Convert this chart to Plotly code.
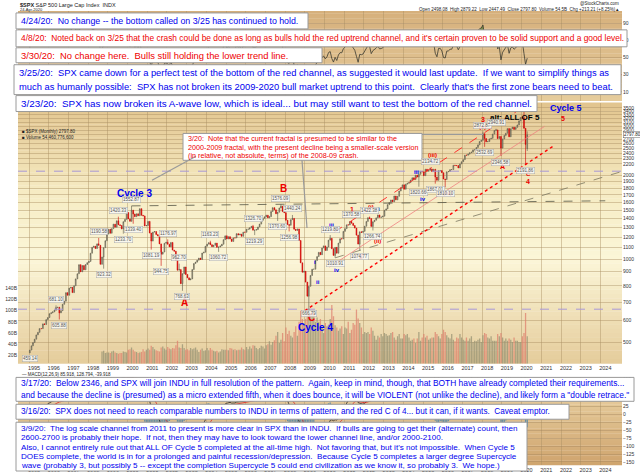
import numpy as np
import pandas as pd
import plotly.graph_objects as go

W, H = 640, 473
FONT = "Liberation Sans, Arial, sans-serif"

# ---- S&P 500 monthly closes, Jan 1995 .. Apr 2020 ----
spx_close = [
    470.42, 487.39, 500.71, 514.71, 533.40, 544.75, 562.06, 561.88, 584.41, 581.50, 605.37, 615.93,
    636.02, 640.43, 645.50, 654.17, 669.12, 670.63, 639.95, 651.99, 687.31, 705.27, 757.02, 740.74,
    786.16, 790.82, 757.12, 801.34, 848.28, 885.14, 954.31, 899.47, 947.28, 914.62, 955.40, 970.43,
    980.28, 1049.34, 1101.75, 1111.75, 1090.82, 1133.84, 1120.67, 957.28, 1017.01, 1098.67, 1163.63, 1229.23,
    1279.64, 1238.33, 1286.37, 1335.18, 1301.84, 1372.71, 1328.72, 1320.41, 1282.71, 1362.93, 1388.91, 1469.25,
    1394.46, 1366.42, 1498.58, 1452.43, 1420.60, 1454.60, 1430.83, 1517.68, 1436.51, 1429.40, 1314.95, 1320.28,
    1366.01, 1239.94, 1160.33, 1249.46, 1255.82, 1224.42, 1211.23, 1133.58, 1040.94, 1059.78, 1139.45, 1148.08,
    1130.20, 1106.73, 1147.39, 1076.92, 1067.14, 989.82, 911.62, 916.07, 815.28, 885.76, 936.31, 879.82,
    855.70, 841.15, 848.18, 916.92, 963.59, 974.50, 990.31, 1008.01, 995.97, 1050.71, 1058.20, 1111.92,
    1131.13, 1144.94, 1126.21, 1107.30, 1120.68, 1140.84, 1101.72, 1104.24, 1114.58, 1130.20, 1173.82, 1211.92,
    1181.27, 1203.60, 1180.59, 1156.85, 1191.50, 1191.33, 1234.18, 1220.33, 1228.81, 1207.01, 1249.48, 1248.29,
    1280.08, 1280.66, 1294.83, 1310.61, 1270.09, 1270.20, 1276.66, 1303.82, 1335.85, 1377.94, 1400.63, 1418.30,
    1438.24, 1406.82, 1420.86, 1482.37, 1530.62, 1503.35, 1455.27, 1473.99, 1526.75, 1549.38, 1481.14, 1468.36,
    1378.55, 1330.63, 1322.70, 1385.59, 1400.38, 1280.00, 1267.38, 1282.83, 1166.36, 968.75, 896.24, 903.25,
    825.88, 735.09, 797.87, 872.81, 919.14, 919.32, 987.48, 1020.62, 1057.08, 1036.19, 1095.63, 1115.10,
    1073.87, 1104.49, 1169.43, 1186.69, 1089.41, 1030.71, 1101.60, 1049.33, 1141.20, 1183.26, 1180.55, 1257.64,
    1286.12, 1327.22, 1325.83, 1363.61, 1345.20, 1320.64, 1292.28, 1218.89, 1131.42, 1253.30, 1246.96, 1257.60,
    1312.41, 1365.68, 1408.47, 1397.91, 1310.33, 1362.16, 1379.32, 1406.58, 1440.67, 1412.16, 1416.18, 1426.19,
    1498.11, 1514.68, 1569.19, 1597.57, 1630.74, 1606.28, 1685.73, 1632.97, 1681.55, 1756.54, 1805.81, 1848.36,
    1782.59, 1859.45, 1872.34, 1883.95, 1923.57, 1960.23, 1930.67, 2003.37, 1972.29, 2018.05, 2067.56, 2058.90,
    1994.99, 2104.50, 2067.89, 2085.51, 2107.39, 2063.11, 2103.84, 1972.18, 1920.03, 2079.36, 2080.41, 2043.94,
    1940.24, 1932.23, 2059.74, 2065.30, 2096.95, 2098.86, 2173.60, 2170.95, 2168.27, 2126.15, 2198.81, 2238.83,
    2278.87, 2363.64, 2362.72, 2384.20, 2411.80, 2423.41, 2470.30, 2471.65, 2519.36, 2575.26, 2647.58, 2673.61,
    2823.81, 2713.83, 2640.87, 2648.05, 2705.27, 2718.37, 2816.29, 2901.52, 2913.98, 2711.74, 2760.17, 2506.85,
    2704.10, 2784.49, 2834.40, 2945.83, 2752.06, 2941.76, 2980.38, 2926.46, 2976.74, 3037.56, 3140.98, 3230.78,
    3225.52, 2954.22, 2584.59, 2797.80,
]
first_open = 459.27
last_open = 2498.08

# swing extremes (monthly high / low) used for wicks and the value tags
swing_highs = {
    "1996-05": 681.10, "1998-07": 1190.58, "1999-07": 1420.33, "2000-03": 1552.87,
    "2002-01": 1176.97, "2002-08": 962.70, "2004-03": 1163.23, "2006-05": 1326.70,
    "2007-10": 1576.09, "2008-05": 1440.24, "2010-04": 1219.80, "2011-05": 1370.58,
    "2012-04": 1422.38, "2015-05": 2134.72, "2018-01": 2872.87, "2018-09": 2940.91,
    "2020-02": 3393.52, "2020-04": 2879.22,
}
swing_lows = {
    "1995-01": 459.14, "1996-07": 605.88, "1998-10": 923.32, "1999-10": 1233.70,
    "2000-04": 1339.40, "2001-03": 1081.19, "2001-09": 944.75, "2002-10": 768.63,
    "2004-08": 1060.72, "2006-06": 1219.29, "2007-08": 1370.60, "2008-03": 1256.98,
    "2009-03": 666.79, "2010-07": 1010.91, "2011-10": 1074.77, "2012-06": 1266.74,
    "2014-10": 1820.66, "2015-08": 1867.01, "2016-02": 1810.10, "2018-02": 2532.69,
    "2018-12": 2346.58, "2020-03": 2191.86, "2020-04": 2447.49,
}
no_tag = {"2020-02", "2020-04"}

# monthly volume in billions, Sep 1998 .. Apr 2020
volume_b = [
    27, 28, 24, 25,
    25, 24, 27, 28, 25, 24, 23, 24, 24, 27, 26, 25,
    30, 31, 34, 30, 27, 26, 24, 25, 26, 31, 27, 30,
    32, 30, 37, 35, 31, 29, 28, 27, 34, 36, 32, 30,
    35, 32, 31, 33, 32, 38, 46, 34, 33, 40, 33, 30,
    31, 29, 33, 31, 32, 34, 30, 26, 30, 32, 28, 29,
    33, 29, 33, 30, 28, 27, 28, 25, 27, 31, 30, 30,
    30, 29, 33, 32, 30, 31, 29, 30, 30, 34, 31, 30,
    35, 31, 36, 32, 38, 37, 33, 31, 33, 37, 36, 32,
    38, 40, 45, 39, 44, 47, 55, 62, 42, 48, 60, 45,
    70, 58, 64, 55, 52, 62, 72, 55, 80, 100, 85, 75,
    85, 95, 105, 95, 98, 90, 80, 88, 80, 85, 70, 60,
    78, 72, 75, 85, 110, 90, 74, 70, 64, 68, 72, 58,
    70, 68, 80, 60, 66, 78, 75, 102, 86, 78, 70, 58,
    62, 60, 62, 58, 70, 64, 55, 48, 55, 52, 58, 54,
    60, 58, 55, 56, 60, 62, 52, 48, 54, 58, 50, 50,
    58, 56, 58, 52, 46, 48, 50, 42, 50, 62, 46, 52,
    58, 52, 55, 48, 50, 52, 52, 62, 58, 54, 50, 58,
    66, 62, 56, 52, 50, 58, 48, 45, 52, 50, 58, 52,
    48, 46, 52, 46, 50, 54, 44, 46, 45, 48, 50, 44,
    56, 60, 58, 52, 50, 54, 46, 46, 46, 58, 54, 60,
    52, 46, 50, 46, 50, 48, 44, 52, 46, 46, 44, 44,
    54, 60, 96, 54,
]
volume_start = "1998-09"

# trend lines: (dates, prices)
channel_upper = (["2010-07-01", "2020-06-01"], [1250, 3650])
channel_mid = (["2010-04-01", "2021-03-01"], [936, 3000])
channel_lower = (["2009-01-01", "2021-08-01"], [652, 2541])
top_line = (["2000-03-15", "2024-04-01"], [1553, 1620])
base_line = (["2010-07-15", "2025-02-05"], [1010, 2066])
level_lines = [2070, 660]

# wave labels: date, price, text, colour, size
wave_labels = [
    ("2000-05-01", 1724, "<b>Cycle 3</b>", "#0000ee", 10),
    ("2007-12-01", 1797, "<b>B</b>", "#ee0000", 10),
    ("2002-12-01", 696, "<b>A</b>", "#ee0000", 10),
    ("2009-05-01", 614, "<b>C</b>", "#ee0000", 10),
    ("2009-07-15", 566, "<b>Cycle 4</b>", "#0000ee", 10),
    ("2022-04-01", 3506, "<b>Cycle 5</b>", "#0000ee", 9),
    ("2022-02-15", 3202, "<b>5</b>", "#ee0000", 7),
    ("2019-09-01", 3230, "<b>alt: ALL OF 5</b>", "#000000", 8),
    ("2018-01-15", 3177, "<b>3</b>", "#ee0000", 7),
    ("2018-01-15", 2974, "<b>(v)</b>", "#ee0000", 6),
    ("2019-01-20", 2154, "<b>A</b>", "#ee0000", 7),
    ("2020-05-01", 2017, "<b>C</b>", "#ee0000", 6),
    ("2020-05-01", 1903, "<b>4</b>", "#ee0000", 7),
    ("2015-07-01", 2360, "<b>(iii)</b>", "#ee0000", 6),
    ("2015-07-01", 2244, "<b>v</b>", "#0000ee", 6),
    ("2014-09-01", 2050, "<b>iii</b>", "#0000ee", 6),
    ("2015-01-01", 1641, "<b>iv</b>", "#0000ee", 6),
    ("2016-04-01", 1724, "<b>(iv)</b>", "#ee0000", 6),
    ("2011-05-15", 1511, "<b>1</b>", "#ee0000", 7),
    ("2011-11-15", 1017, "<b>2</b>", "#ee0000", 7),
    ("2010-05-15", 1324, "<b>iii</b>", "#0000ee", 6),
    ("2010-08-15", 913, "<b>iv</b>", "#0000ee", 6),
    ("2012-05-15", 1536, "<b>(i)</b>", "#ee0000", 6),
    ("2012-10-15", 1511, "<b>i</b>", "#0000ee", 6),
    ("2012-09-01", 1160, "<b>(ii)</b>", "#ee0000", 6),
    ("2009-07-15", 975, "<b>i</b>", "#0000ee", 6),
    ("2009-09-01", 827, "<b>ii</b>", "#0000ee", 6),
]

BLUE, RED = "#0000ee", "#ee0000"
note_0424 = ["4/24/20:  No change -- the bottom called on 3/25 has continued to hold."]
note_0408 = ["4/8/20:  Noted back on 3/25 that the crash could be done as long as bulls hold the red uptrend channel, and it's certain proven to be solid support and a good level."]
note_0330 = ["3/30/20:  No change here.  Bulls still holding the lower trend line."]
note_0325 = ["3/25/20:  SPX came down for a perfect test of the bottom of the red channel, as suggested it would last update.  If we want to simplify things as",
             "much as humanly possible:  SPX has not broken its 2009-2020 bull market uptrend to this point.  Clearly that's the first zone bears need to beat."]
note_0323 = ["3/23/20:  SPX has now broken its A-wave low, which is ideal... but may still want to test the bottom of the red channel."]
note_0320 = ["3/20:  Note that the current fractal is presumed to be similar to the",
             "2000-2009 fractal, with the present decline being a smaller-scale version",
             "(in relative, not absolute, terms) of the 2008-09 crash."]
note_0317 = ["3/17/20:  Below 2346, and SPX will join INDU in full resolution of the pattern.  Again, keep in mind, though, that BOTH have already completed their requirements...",
             'and because the decline is (presumed) as a micro extended fifth, when it does bounce, it will be VIOLENT (not unlike the decline), and likely form a "double retrace."']
note_0316 = ["3/16/20:  SPX does not need to reach comparable numbers to INDU in terms of pattern, and the red C of 4... but it can, if it wants.  Caveat emptor."]
note_0309 = ["3/9/20:  The log scale channel from 2011 to present is more clear in SPX than in INDU.  If bulls are going to get their (alternate) count, then",
             "2600-2700 is probably their hope.  If not, then they may have to look toward the lower channel line, and/or 2000-2100.",
             "Also, I cannot entirely rule out that ALL OF Cycle 5 completed at the all-time high.  Not favoring that, but it's not impossible.  When Cycle 5",
             "DOES complete, the world is in for a prolonged and painful recession/depression.  Because Cycle 5 completes a larger degree Supercycle",
             "wave (probably 3, but possibly 5 -- except the completion Supercycle 5 could end civilization as we know it, so probably 3.  We hope.)"]

# box: lines, colour, font size, x0, y0, x1, y1, line centres (px)
notes = [
    (note_0424, BLUE, 8.8, 16, 12, 308, 28, [20]),
    (note_0408, RED, 8.4, 16, 29, 627, 46, [37.5]),
    (note_0330, RED, 9.4, 16, 47, 322, 62, [54.5]),
    (note_0325, BLUE, 9.35, 14, 64, 621, 94, [72.5, 86]),
    (note_0323, BLUE, 9.85, 16, 95, 537, 111, [103]),
    (note_0320, RED, 7.2, 183, 133, 422, 160, [138.5, 147, 155.5]),
    (note_0317, BLUE, 8.4, 16, 378, 634, 402, [384, 395.5]),
    (note_0316, BLUE, 8.2, 16, 405, 569, 420, [412.5]),
    (note_0309, BLUE, 8.1, 16, 423, 527, 472, [429.5, 438.8, 448.1, 457.4, 466.7]),
]

# ---------------------------------------------------------------
def px(x):
    return x / W

def py(y):
    return 1 - y / H

def hex_rgb(h):
    h = h.lstrip("#")
    return [int(h[i:i + 2], 16) for i in (0, 2, 4)]

def gradient(fig, top, bottom, stops, n=36):
    step = (bottom - top) / n
    for i in range(n):
        t = (i + 0.5) / n
        for j in range(len(stops) - 1):
            if stops[j][0] <= t <= stops[j + 1][0]:
                a, b = stops[j], stops[j + 1]
                break
        f = (t - a[0]) / (b[0] - a[0])
        ca, cb = hex_rgb(a[1]), hex_rgb(b[1])
        c = [round(ca[k] + (cb[k] - ca[k]) * f) for k in range(3)]
        fig.add_shape(type="rect", xref="paper", yref="paper", layer="below",
                      x0=px(18), x1=px(622), y0=py(top + (i + 1) * step + 0.3), y1=py(top + i * step),
                      line_width=0, fillcolor="rgb(%d,%d,%d)" % tuple(c))

dates = pd.date_range("1995-01-01", periods=len(spx_close), freq="MS")
mid = dates + pd.Timedelta(days=14)
close = pd.Series(spx_close, index=dates)
opens = [first_open] + spx_close[:-1]
opens[-1] = last_open
highs = [max(o, c) for o, c in zip(opens, spx_close)]
lows = [min(o, c) for o, c in zip(opens, spx_close)]
keys = [d.strftime("%Y-%m") for d in dates]
for i, k in enumerate(keys):
    if k in swing_highs:
        highs[i] = swing_highs[k]
    if k in swing_lows:
        lows[i] = swing_lows[k]

# indicators
delta = close.diff()
gain = delta.clip(lower=0).ewm(alpha=1 / 14, adjust=False).mean()
loss = (-delta.clip(upper=0)).ewm(alpha=1 / 14, adjust=False).mean()
rsi = 100 - 100 / (1 + gain / loss)
rsi.iloc[0] = 60
ema12 = close.ewm(span=12, adjust=False).mean()
ema26 = close.ewm(span=26, adjust=False).mean()
macd = ema12 - ema26
signal = macd.ewm(span=9, adjust=False).mean()
hist = macd - signal

vdates = pd.date_range(volume_start + "-01", periods=len(volume_b), freq="MS")
prev = close.shift(1).reindex(vdates)
vcol = ["rgba(222,128,110,0.75)" if close[d] < prev[d] else "rgba(150,145,115,0.75)" for d in vdates]

fig = go.Figure()

# RSI panel
fig.add_trace(go.Scatter(x=mid, y=[70] * len(mid), xaxis="x2", yaxis="y", mode="lines",
                         line=dict(color="rgba(0,0,0,0)", width=0), hoverinfo="skip"))
fig.add_trace(go.Scatter(x=mid, y=np.maximum(rsi.values, 70), xaxis="x2", yaxis="y", mode="lines",
                         fill="tonexty", fillcolor="rgba(110,140,60,0.85)", line=dict(width=0)))
fig.add_trace(go.Scatter(x=mid, y=rsi.values, xaxis="x2", yaxis="y", mode="lines",
                         line=dict(color="#3a3a30", width=0.8)))
for lv in (70, 30):
    fig.add_trace(go.Scatter(x=[mid[0], pd.Timestamp("2025-02-01")], y=[lv, lv], xaxis="x2", yaxis="y",
                             mode="lines", line=dict(color="#d04040", width=0.7)))

# volume
fig.add_trace(go.Bar(x=vdates + pd.Timedelta(days=14), y=volume_b, xaxis="x", yaxis="y3",
                     marker=dict(color=vcol, line_width=0)))

# level and trend lines
for lv in level_lines:
    fig.add_trace(go.Scatter(x=["1994-06-10", "2025-02-05"], y=[lv, lv], xaxis="x", yaxis="y2", mode="lines",
                             line=dict(color="#a898d8", width=1, dash="dash")))
fig.add_trace(go.Scatter(x=top_line[0], y=top_line[1], xaxis="x", yaxis="y2", mode="lines",
                         line=dict(color="#555545", width=0.8, dash="dash")))
fig.add_trace(go.Scatter(x=base_line[0], y=base_line[1], xaxis="x", yaxis="y2", mode="lines",
                         line=dict(color="#7a7660", width=0.8, dash="dash")))
fig.add_trace(go.Scatter(x=channel_mid[0], y=channel_mid[1], xaxis="x", yaxis="y2", mode="lines",
                         line=dict(color="#f08080", width=0.8)))
fig.add_trace(go.Scatter(x=channel_upper[0], y=channel_upper[1], xaxis="x", yaxis="y2", mode="lines",
                         line=dict(color="#ff2020", width=0.9, dash="dash")))
fig.add_trace(go.Scatter(x=channel_lower[0], y=channel_lower[1], xaxis="x", yaxis="y2", mode="lines",
                         line=dict(color="#ff0000", width=1.4, dash="dot")))

# price candles
fig.add_trace(go.Candlestick(x=mid, open=opens, high=highs, low=lows, close=spx_close,
                             xaxis="x", yaxis="y2", whiskerwidth=0,
                             increasing=dict(line=dict(color="#5a5848", width=0.6), fillcolor="#bcb79c"),
                             decreasing=dict(line=dict(color="#cc0000", width=0.6), fillcolor="#e00000")))

# MACD panel
fig.add_trace(go.Bar(x=mid, y=hist.values, xaxis="x3", yaxis="y4",
                     marker=dict(color="rgba(70,130,170,0.8)", line_width=0)))
fig.add_trace(go.Scatter(x=mid, y=macd.values, xaxis="x3", yaxis="y4", mode="lines",
                         line=dict(color="#202020", width=0.8)))
fig.add_trace(go.Scatter(x=mid, y=signal.values, xaxis="x3", yaxis="y4", mode="lines",
                         line=dict(color="#e02020", width=0.8)))

# backgrounds
gradient(fig, 10, 100, [(0, "#d6b07c"), (1, "#e6cc9c")])
gradient(fig, 102, 364, [(0, "#e2c48e"), (0.35, "#f6ecc4"), (0.6, "#fbf6d8"), (1, "#e5cc9b")], n=60)
gradient(fig, 378, 466, [(0, "#ecd6a8"), (1, "#cfa46e")])

year_ticks = [pd.Timestamp("%d-01-01" % y) for y in range(1995, 2025)]
xcommon = dict(type="date", range=["1994-06-10", "2025-02-05"], domain=[px(18), px(622)],
               tickvals=year_ticks, tickformat="%Y", ticks="", showgrid=True,
               gridcolor="rgba(170,145,100,0.45)", gridwidth=0.6, zeroline=False,
               tickfont=dict(size=5.5, color="#333", family=FONT), ticklabelshift=5,
               showline=False, rangeslider=dict(visible=False))
ytick_font = dict(size=5, color="#333", family=FONT)
price_ticks = list(range(500, 2100, 100)) + list(range(2200, 3600, 100))

fig.update_layout(
    width=W, height=H, margin=dict(l=0, r=0, t=0, b=0),
    paper_bgcolor="white", plot_bgcolor="rgba(0,0,0,0)", showlegend=False,
    bargap=0.15, font=dict(family=FONT),
    xaxis=dict(xcommon, anchor="y2"),
    xaxis2=dict(xcommon, anchor="y", matches="x", showticklabels=False),
    xaxis3=dict(xcommon, anchor="y4", matches="x"),
    yaxis=dict(domain=[py(100), py(10)], range=[0, 104], side="right", tickvals=[10, 30, 50, 70, 90],
               tickfont=ytick_font, showgrid=True, gridcolor="rgba(160,130,90,0.4)", gridwidth=0.6,
               zeroline=False, ticks=""),
    yaxis2=dict(domain=[py(364), py(102)], type="log", range=[np.log10(421), np.log10(3655)],
                side="right", tickvals=price_ticks, tickfont=ytick_font, showgrid=True,
                gridcolor="rgba(170,145,100,0.45)", gridwidth=0.6, zeroline=False, ticks=""),
    yaxis3=dict(overlaying="y2", anchor="x", side="left", range=[5.4, 473],
                tickvals=[20, 40, 60, 80, 100, 120, 140],
                ticktext=["20B", "40B", "60B", "80B", "100B", "120B", "140B"],
                tickfont=ytick_font, showgrid=False, zeroline=False, ticks=""),
    yaxis4=dict(domain=[py(466), py(378)], range=[-160, 118], side="right",
                tickvals=[-150, -125, -100, -75, -50, -25, 0, 25, 50, 75, 100, 112],
                tickfont=ytick_font, showgrid=True, gridcolor="rgba(160,130,90,0.4)", gridwidth=0.6,
                zeroline=False, ticks=""),
)

ann = []
# wave labels
for d, p, t, c, s in wave_labels:
    ann.append(dict(x=d, y=np.log10(p), xref="x", yref="y2", text=t, showarrow=False,
                    font=dict(color=c, size=s, family=FONT)))
# value tags
for k, v in swing_highs.items():
    if k in no_tag:
        continue
    ann.append(dict(x=k + "-15", y=np.log10(v), xref="x", yref="y2", text="%.2f" % v, showarrow=False,
                    yshift=6, font=dict(size=4.5, color="#555", family=FONT),
                    bgcolor="rgba(248,248,244,0.85)", bordercolor="#aaa", borderwidth=0.5, borderpad=0.5))
for k, v in swing_lows.items():
    if k in no_tag:
        continue
    ann.append(dict(x=k + "-15", y=np.log10(v), xref="x", yref="y2", text="%.2f" % v, showarrow=False,
                    yshift=-6, font=dict(size=4.5, color="#555", family=FONT),
                    bgcolor="rgba(248,248,244,0.85)", bordercolor="#aaa", borderwidth=0.5, borderpad=0.5))
# right-axis highlight of the last close
ann.append(dict(x=px(623), y=np.log10(spx_close[-1]), xref="paper", yref="y2", xanchor="left",
                text="%.2f" % spx_close[-1], showarrow=False, font=dict(size=4.5, color="#222", family=FONT),
                bgcolor="white", bordercolor="#666", borderwidth=0.5, borderpad=0.5))

# headers / legends
small = [
    (18, 4, "left", "<b>$SPX</b> S&P 500 Large Cap Index  INDX", 5.5),
    (18, 9, "left", "24-Apr-2020", 4),
    (621, 3, "right", "@StockCharts.com", 4.5),
    (621, 9, "right", "Open 2498.08  High 2879.22  Low 2447.49  Close 2797.80  Volume 54.5B  Chg +213.21 (+8.25%) ▴", 4.5),
    (20, 131, "left", "■ $SPX (Monthly) 2797.80", 4.5),
    (20, 137, "left", "■ Volume 54,460,776,600", 4.5),
    (20, 375, "left", "— MACD(12,26,9) 85.918, 128.794, -39.918", 4.5),
]
for x, y, al, t, s in small:
    ann.append(dict(x=px(x), y=py(y), xref="paper", yref="paper", xanchor=al, yanchor="middle",
                    text=t, showarrow=False, font=dict(size=s, color="#222", family=FONT)))

# note boxes
for lines, col, fs, x0, y0, x1, y1, ys in notes:
    fig.add_shape(type="rect", xref="paper", yref="paper", x0=px(x0), x1=px(x1), y0=py(y1), y1=py(y0),
                  fillcolor="white", line=dict(color="#9a9a9a", width=1), layer="above")
    for t, yy in zip(lines, ys):
        ann.append(dict(x=px(x0 + 2.5), y=py(yy), xref="paper", yref="paper", xanchor="left",
                        yanchor="middle", text=t.replace("  ", "\u00a0 "), showarrow=False,
                        font=dict(size=fs, color=col, family=FONT)))

# callout lines of the 3/20 note
for (xa, ya, xb, yb) in [(196, 156, 152, 180), (302, 160, 307, 228), (422, 134, 483, 134)]:
    fig.add_shape(type="line", xref="paper", yref="paper", x0=px(xa), y0=py(ya), x1=px(xb), y1=py(yb),
                  line=dict(color="#9a9a9a", width=1.2), layer="above")

fig.update_layout(annotations=ann)
fig.write_html("out.html", config={"displayModeBar": False},
               post_script="document.body.style.margin='0';document.body.style.overflow='hidden';")
